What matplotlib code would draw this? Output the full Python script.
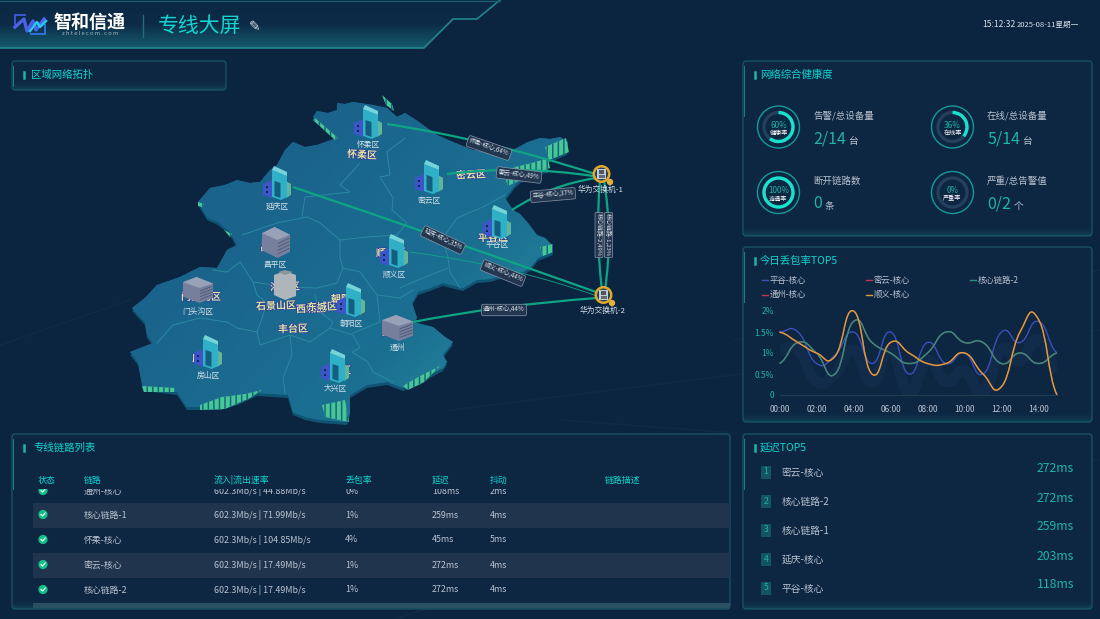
import numpy as np
import matplotlib
matplotlib.use('Agg')
import matplotlib.pyplot as plt
from matplotlib.colors import LinearSegmentedColormap
from matplotlib.patches import Polygon, FancyBboxPatch, Rectangle, Circle, Arc, PathPatch
from matplotlib.path import Path
from matplotlib.transforms import ScaledTranslation
import matplotlib.patheffects as pe

plt.rcParams['font.family'] = ['Noto Sans CJK SC', 'DejaVu Sans']
plt.rcParams['hatch.linewidth'] = 1.1

BG = '#0b2440'
PANEL = '#0d2642'
CYAN = '#12d6d0'
TEAL = '#1fb5a5'
GREY = '#b9c3cf'

# donnees du graphique
hours = list(range(16))
hour_labels = ['00:00', '02:00', '04:00', '06:00', '08:00', '10:00', '12:00', '14:00']
pinggu = [1.5, 1.5, 0.75, 0.95, 1.5, 0.75, 1.5, 0.5, 1.25, 0.75, 1.0, 0.5, 1.5, 1.25, 1.75, 1.0]
miyun = [0.75, 1.25, 1.0, 0.5, 1.75, 1.25, 1.0, 0.75, 1.0, 1.5, 1.25, 1.25, 0.75, 1.0, 0.75, 1.0]
hexin2 = [0.75, 1.25, 1.0, 0.5, 1.75, 1.25, 1.0, 0.75, 1.0, 1.5, 1.25, 1.25, 0.75, 1.0, 0.75, 1.0]
tongzhou = [1.5, 1.25, 1.0, 0.92, 2.0, 0.5, 1.25, 1.0, 0.75, 0.75, 1.0, 0.5, 0.2, 1.5, 1.8, 0.0]
shunyi = [1.5, 1.25, 1.0, 0.92, 2.0, 0.5, 1.25, 1.0, 0.75, 0.75, 1.0, 0.5, 0.2, 1.5, 1.8, 0.0]
series_names = ['平谷-核心', '密云-核心', '核心链路-2', '通州-核心', '顺义-核心']
series_colors = ['#3a50bd', '#b83a50', '#2a9080', '#b83a50', '#d8a03a']

delay_names = ['密云-核心', '核心链路-2', '核心链路-1', '延庆-核心', '平谷-核心']
delay_values = ['272ms', '272ms', '259ms', '203ms', '118ms']

table_head = ['状态', '链路', '流入|流出速率', '丢包率', '延迟', '抖动', '链路描述']
table_links = ['通州-核心', '核心链路-1', '怀柔-核心', '密云-核心', '核心链路-2']
table_rates = ['602.3Mb/s | 44.88Mb/s', '602.3Mb/s | 71.99Mb/s', '602.3Mb/s | 104.85Mb/s',
               '602.3Mb/s | 17.49Mb/s', '602.3Mb/s | 17.49Mb/s']
table_loss = ['0%', '1%', '4%', '1%', '1%']
table_delay = ['108ms', '259ms', '45ms', '272ms', '272ms']
table_jitter = ['2ms', '4ms', '5ms', '4ms', '4ms']

health_pct = [60, 36, 100, 0]
health_inner = ['健康率', '在线率', '连通率', '严重率']
health_titles = ['告警/总设备量', '在线/总设备量', '断开链路数', '严重/总告警值']
health_values = ['2/14', '5/14', '0', '0/2']
health_units = ['台', '台', '条', '个']

# contour de la carte (pixels)
map_outline = [(313, 117), (317, 111), (328, 113), (337, 110), (337, 103), (345, 104), (353, 102), (373, 105), (387, 108),
               (397, 117), (405, 113), (413, 118), (423, 125), (437, 135), (453, 142), (473, 150), (487, 152), (500, 154),
               (513, 150), (528, 142), (540, 138), (550, 139), (560, 137), (568, 142), (567, 152), (548, 160), (548, 170),
               (530, 172), (515, 185), (505, 198), (513, 210), (520, 214), (528, 223), (537, 235), (545, 238), (552, 245),
               (553, 252), (538, 258), (530, 268), (523, 272), (503, 275), (490, 279), (477, 280), (463, 288), (443, 283),
               (430, 288), (418, 292), (412, 303), (417, 318), (413, 322), (433, 327), (445, 337), (453, 342), (443, 355),
               (447, 362), (443, 368), (430, 375), (420, 382), (403, 388), (387, 382), (367, 385), (350, 395), (350, 412),
               (347, 422), (320, 420), (305, 417), (293, 412), (288, 395), (257, 393), (238, 402), (220, 407), (187, 407),
               (177, 392), (143, 388), (138, 362), (130, 352), (140, 348), (153, 343), (147, 335), (145, 322), (132, 308),
               (145, 298), (157, 285), (180, 277), (200, 267), (217, 268), (227, 250), (237, 245), (230, 232), (218, 222),
               (207, 217), (198, 202), (210, 188), (225, 185), (237, 180), (250, 183), (260, 182), (270, 170), (277, 165),
               (285, 150), (293, 142), (305, 147), (317, 145), (337, 138)]
borders = [
    [(360, 163), (340, 185), (350, 192), (305, 197), (302, 217)],
    [(405, 138), (387, 152), (390, 175), (380, 177), (393, 198), (392, 210), (407, 223), (397, 235)],
    [(242, 235), (277, 223), (307, 217), (320, 223), (340, 240), (367, 237), (397, 235)],
    [(340, 240), (340, 258), (343, 268), (337, 283), (317, 288), (287, 287), (253, 282), (240, 262), (227, 272), (213, 270)],
    [(253, 282), (257, 295), (267, 303), (262, 318), (257, 332)],
    [(157, 343), (173, 325), (200, 318), (227, 322), (237, 328), (257, 332), (260, 345), (290, 335)],
    [(290, 335), (292, 355), (283, 378), (285, 393)],
    [(290, 335), (310, 342), (330, 328), (353, 335), (360, 348), (352, 352), (368, 362), (373, 372), (393, 382)],
    [(377, 295), (380, 322), (353, 333)],
    [(343, 268), (360, 272), (377, 295), (400, 298), (413, 290)],
    [(315, 295), (320, 312), (333, 322), (330, 328)],
    [(443, 238), (457, 218), (483, 207), (505, 195)],
    [(443, 238), (448, 258), (450, 272), (460, 288)],
    [(400, 288), (413, 282), (448, 268)],
]
edge_strips = [
    [(503, 172), (515, 167), (532, 163), (548, 158), (550, 168), (535, 174), (520, 180), (508, 186)],
    [(545, 147), (566, 138), (569, 152), (549, 160)],
    [(540, 247), (553, 244), (553, 252), (543, 256)],
    [(200, 405), (222, 397), (245, 394), (262, 390), (250, 398), (225, 409), (200, 410)],
    [(322, 405), (345, 400), (349, 422), (325, 417)],
    [(142, 386), (175, 388), (175, 392), (144, 392)],
    [(315, 118), (338, 138), (335, 140), (313, 120)],
    [(382, 95), (392, 104), (394, 111), (386, 105)],
    [(403, 386), (420, 376), (440, 366), (424, 382), (408, 390)],
    [(198, 202), (204, 204), (202, 207), (198, 206)],
    [(224, 230), (232, 234), (230, 237)],
]

# liens: depart, point de controle, arrivee, epaisseur
link_paths = [
    ((387, 124), (490, 140), (595, 174), 1.6),
    ((447, 174), (520, 165), (593, 176), 1.6),
    ((512, 210), (550, 185), (596, 178), 1.6),
    ((293, 187), (450, 240), (596, 292), 1.6),
    ((410, 252), (510, 265), (597, 296), 0.6),
    ((413, 322), (500, 305), (597, 298), 1.6),
    ((600, 180), (595, 235), (602, 290), 1.6),
    ((604, 180), (613, 235), (605, 290), 1.6),
]
link_labels = [('怀柔-核心,64%', 489, 148, -19), ('密云-核心,49%', 519, 175, -7), ('平谷-核心,37%', 553, 195, 5),
               ('延庆-核心,35%', 443, 240, -25), ('顺义-核心,44%', 503, 273, -22), ('通州-核心,44%', 504, 310, 0)]
core_labels = [('核心链路-2,49%', 599, 235), ('核心链路-1,23%', 608.5, 235)]

towers = [('怀柔区', 368, 138), ('延庆区', 277, 199), ('密云区', 429, 193), ('平谷区', 497, 238),
          ('顺义区', 394, 267), ('朝阳区', 351, 316), ('房山区', 208, 368), ('大兴区', 335, 382)]
glitch_labels = [('怀柔区', 362, 155, -3), ('密云区', 471, 175, 3), ('平谷区', 493, 238, 2), ('门头沟区', 201, 297, 0),
                 ('石景山区', 276, 306, 2), ('西城区', 311, 309, 2), ('东城区', 322, 307, 2), ('丰台区', 293, 329, 2),
                 ('朝阳区', 346, 299, 2), ('昌平区', 275, 247, 2), ('顺义区', 391, 253, 2), ('大兴区', 336, 371, 2),
                 ('房山区', 207, 358, 2), ('通州区', 397, 332, 2), ('海淀区', 285, 287, 2)]

fig = plt.figure(figsize=(11, 6.19), dpi=100)
ax = fig.add_axes([0, 0, 1, 1])
ax.axis('off')
ax.add_patch(Rectangle((0, 0), 1100, 619, fc=BG, ec='none', zorder=0))
# traces faibles du fond
for x0, y0, x1, y1 in [(450, 410, 1100, 330), (560, 420, 1100, 460), (390, 620, 720, 520), (0, 345, 130, 300), (735, 340, 1100, 270)]:
    ax.plot([x0, x1], [y0, y1], color='#173a58', lw=1.2, alpha=0.3, zorder=0.5)


def panel(x, y, w, h, title, tx=None):
    box = FancyBboxPatch((x + 3, y + 3), w - 6, h - 6, boxstyle='round,pad=3', fc=PANEL, ec='#1a5767', lw=0.9, zorder=1)
    ax.add_patch(box)
    # lueur sur les bords
    im = ax.imshow(np.linspace(0, 1, 30).reshape(-1, 1) ** 3, extent=(x, x + w, y + h, y + h - min(h, 26)),
                   cmap=LinearSegmentedColormap.from_list('g', ['#0d264200', '#17606e80']), aspect='auto', zorder=1.1)
    im.set_clip_path(box)
    ax.plot([x + 0.5, x + 0.5], [y + 5, y + min(h - 4, 55)], color='#1a7c86', lw=0.8, zorder=1.2)
    ax.plot([x + 12, x + 12], [y + 11, y + 17], color=TEAL, lw=1.8, zorder=2)
    ax.text(x + 19 if tx is None else tx, y + 14, title, color=CYAN, fontsize=7.5, va='center', zorder=3)


def smooth_path(xs, ys):
    # courbe lissee par segments de Bezier passant par les valeurs
    xs = np.asarray(xs, float)
    ys = np.asarray(ys, float)
    verts = [(xs[0], ys[0])]
    codes = [Path.MOVETO]
    k = 0.5
    for i in range(len(xs) - 1):
        y_prev = ys[max(i - 1, 0)]
        y_next = ys[min(i + 2, len(ys) - 1)]
        verts += [(xs[i] + k * (xs[i + 1] - xs[i]), ys[i] + (ys[i + 1] - y_prev) * k / 2),
                  (xs[i + 1] - k * (xs[i + 1] - xs[i]), ys[i + 1] - (y_next - ys[i]) * k / 2),
                  (xs[i + 1], ys[i + 1])]
        codes += [Path.CURVE4] * 3
    return Path(verts, codes)


def tower(cx, cy, name):
    # batiment turquoise: cy = bas de l'icone
    ax.add_patch(Polygon([(cx - 14, cy - 15), (cx - 5, cy - 19), (cx - 5, cy - 1), (cx - 14, cy - 4)], fc='#3d55c8', ec='none', zorder=6))
    for dy in (-13, -8):
        ax.add_patch(Rectangle((cx - 11, cy + dy), 2.4, 2.4, fc='#16254f', zorder=6.1))
    ax.add_patch(Polygon([(cx + 9, cy - 18), (cx + 14, cy - 15), (cx + 14, cy - 4), (cx + 9, cy - 1)], fc='#62b59a', ec='none', zorder=6))
    ax.add_patch(Polygon([(cx - 5, cy - 29), (cx + 10, cy - 23), (cx + 10, cy - 2), (cx + 4, cy + 1), (cx - 5, cy - 2)], fc='#2fb0c6', ec='none', zorder=6.2))
    ax.add_patch(Polygon([(cx - 5, cy - 29), (cx - 3, cy - 33), (cx + 10, cy - 27), (cx + 10, cy - 23)], fc='#74d4da', ec='none', zorder=6.3))
    ax.add_patch(Polygon([(cx - 2.5, cy - 18), (cx + 3.5, cy - 16), (cx + 3.5, cy - 1), (cx - 2.5, cy - 3)], fc='#145f80', ec='none', zorder=6.4))
    ax.text(cx, cy + 7.5, name, color='#d7e1e8', fontsize=5.6, ha='center', va='center', zorder=7)


def grey_block(x, y, w, h, name, lx, ly, color='#767f9c'):
    ax.add_patch(Polygon([(x, y + h * 0.2), (x + w * 0.45, y), (x + w, y + h * 0.25), (x + w, y + h * 0.8), (x + w * 0.55, y + h), (x, y + h * 0.75)], fc=color, ec='none', zorder=6))
    ax.add_patch(Polygon([(x, y + h * 0.2), (x + w * 0.45, y), (x + w, y + h * 0.25), (x + w * 0.55, y + h * 0.42)], fc='#99a1b8', ec='none', zorder=6.1))
    for k in range(1, 5):
        frac = 0.42 + 0.11 * k
        ax.plot([x + w * 0.58, x + w - 1], [y + h * frac, y + h * (frac - 0.17)], color='#525c7c', lw=0.7, zorder=6.2)
    ax.text(lx, ly, name, color='#d7e1e8', fontsize=5.6, ha='center', va='center', zorder=7)


def switch(cx, cy, name, lx, ly):
    ax.add_patch(Circle((cx, cy), 9, fc='#e0a92a', ec='none', zorder=8))
    ax.add_patch(Circle((cx, cy), 6.5, fc='#24405c', ec='none', zorder=8.1))
    ax.add_patch(Rectangle((cx - 4.5, cy - 5), 9, 10, fc='#c4cad0', ec='none', zorder=8.2))
    ax.add_patch(Rectangle((cx - 2.5, cy - 4), 5, 3.5, fc='#4b5868', ec='none', zorder=8.3))
    ax.add_patch(Rectangle((cx - 3, cy + 1), 6, 2.5, fc='#5d6a7a', ec='none', zorder=8.3))
    ax.add_patch(Circle((cx + 8.5, cy + 8), 3.2, fc='#e0b040', ec='none', zorder=8.4))
    ax.text(lx, ly, name, color='#d7e1e8', fontsize=5.6, ha='center', va='center', zorder=8)


# bandeau du haut
banner = [(0, 0), (500, 0), (477, 19), (453, 19), (424, 48), (0, 48)]
head = ax.imshow(np.linspace(0, 1, 48).reshape(-1, 1), extent=(0, 500, 48, 0), aspect='auto', zorder=1.1,
                 cmap=LinearSegmentedColormap.from_list('h', ['#0b2744', '#0d2b47', '#155a6d']))
head.set_clip_path(Polygon(banner, transform=ax.transData))
ax.plot([0, 424, 453, 477, 500], [48, 48, 19, 19, 0], color='#20868e', lw=1.2, zorder=2)
ax.plot([0, 500], [0.5, 0.5], color='#1a5f70', lw=1, zorder=2)
ax.add_patch(Polygon([(14, 14), (26, 14), (26, 16), (16, 16), (16, 25), (14, 25)], fc='#3a55d0', zorder=3))
ax.add_patch(Polygon([(46, 24), (46, 35), (30, 35), (30, 33), (44, 33), (44, 24)], fc='#2f6fd8', zorder=3))
ax.plot([15, 24, 27, 33, 36, 44], [27, 19, 31, 21, 30, 19], color='#4a62ea', lw=2.4, zorder=3.1)
ax.plot([30, 37, 40, 46], [31, 22, 27, 21], color='#28c8ee', lw=1.8, zorder=3.2)
ax.text(89.5, 22, '智和信通', color='white', fontsize=13, fontweight='bold', ha='center', va='center', zorder=3)
ax.text(90, 33.5, 'z h t e l e c o m . c o m', color='#a9b7c4', fontsize=4.2, ha='center', va='center', zorder=3)
ax.plot([143, 143], [15, 37], color='#1f6f80', lw=1, zorder=3)
ax.text(200, 25.5, '专线大屏', color=CYAN, fontsize=15, ha='center', va='center', zorder=3)
ax.text(255, 27, '✎', color='#d8e0e6', fontsize=10, ha='center', va='center', family=['DejaVu Sans'], zorder=3)
ax.text(1016, 24.5, '15:12:32', color='#d8e0e8', fontsize=6.2, ha='right', va='center', zorder=3)
ax.text(1079, 25, '2025-08-11星期一', color='#d8e0e8', fontsize=5.5, ha='right', va='center', zorder=3)

# panneaux
panel(12, 61, 214, 29, '区域网络拓扑')
panel(743, 61, 349, 175, '网络综合健康度', tx=760)
panel(743, 247, 349, 175, '今日丢包率TOP5', tx=760)
panel(12, 434, 718, 175, '专线链路列表', tx=33)
panel(743, 434, 349, 175, '延迟TOP5', tx=760)

# carte
outline = np.array(map_outline, float)
ax.add_patch(Polygon(outline + [0, 3], fc='#0f5473', ec='none', zorder=2))
land = Polygon(outline, fc='#1a668e', ec='none', zorder=2.5)
ax.add_patch(land)
gx, gy = np.meshgrid(np.linspace(0, 1, 80), np.linspace(0, 1, 80))
grad = ax.imshow(np.clip((gx + 0.7 * gy) / 1.7, 0, 1), extent=(130, 570, 425, 100), aspect='auto', zorder=2.6,
                 cmap=LinearSegmentedColormap.from_list('m', ['#1b5f88', '#1a658d', '#1b7092', '#2a93a2']))
grad.set_clip_path(land)
for strip in edge_strips:
    ax.add_patch(Polygon(strip, fc='#46c892', ec='#1b6288', hatch='|||', lw=0, zorder=2.8))
for line in borders:
    pts = np.array(line)
    ax.plot(pts[:, 0], pts[:, 1], color='#2a8aa0', lw=0.7, zorder=3)

for txt, x, y, rot in glitch_labels:
    ax.text(x, y, txt, color='#e3e39c', fontsize=7.2, fontweight='bold', ha='center', va='center', rotation=rot, zorder=3.5,
            path_effects=[pe.withStroke(linewidth=1.0, foreground='#2a3fa0')])

# liens
for start, ctrl, end, width in link_paths:
    ax.add_patch(PathPatch(Path([start, ctrl, end], [Path.MOVETO, Path.CURVE3, Path.CURVE3]), fc='none', ec='#0ea585', lw=width, zorder=4))
for txt, x, y, rot in link_labels:
    ax.text(x, y, txt, color='#dfe6ec', fontsize=4.5, ha='center', va='center', rotation=rot, rotation_mode='anchor', zorder=5,
            bbox=dict(boxstyle='round,pad=0.28', fc='#233650', ec='#8a97a8', lw=0.5))
for txt, x, y in core_labels:
    ax.text(x, y, txt, color='#dfe6ec', fontsize=4.3, ha='center', va='center', rotation=-90, rotation_mode='anchor', zorder=5,
            bbox=dict(boxstyle='round,pad=0.12', fc='#233650', ec='#8a97a8', lw=0.5))

for name, cx, cy in towers:
    tower(cx, cy, name)
grey_block(262, 227, 28, 31, '昌平区', 275, 265)
ax.add_patch(Polygon([(274, 275), (285, 271), (296, 275), (296, 296), (285, 300), (274, 295)], fc='#aeb6bc', ec='none', zorder=6))
ax.add_patch(Polygon([(278, 272), (285, 270), (293, 272), (285, 275)], fc='#8c949c', zorder=6.1))
grey_block(183, 277, 30, 26, '门头沟区', 198, 312)
grey_block(382, 315, 31, 26, '通州', 397, 348)

switch(601.5, 174, '华为交换机-1', 601, 190)
switch(603.5, 295, '华为交换机-2', 603, 311)

# sante du reseau
ring_xy = [(778.5, 127), (952.5, 127), (778.5, 192.5), (952.5, 192.5)]
text_xy = [(813, 116), (987, 116), (813, 181), (987, 181)]
for i, (cx, cy) in enumerate(ring_xy):
    ax.add_patch(Circle((cx, cy), 21, fc='none', ec='#159a9a', lw=1, zorder=3))
    ax.add_patch(Circle((cx, cy), 14.5, fc='none', ec='#24405c', lw=2.4, zorder=3))
    if health_pct[i] > 0:
        ax.add_patch(Arc((cx, cy), 29, 29, theta1=-90, theta2=-90 + 3.6 * health_pct[i], ec='#18e2ce', lw=2.4, zorder=3.1))
    ax.text(cx, cy - 2, f'{health_pct[i]}%', color=TEAL, fontsize=5.8, ha='center', va='center', zorder=4)
    ax.text(cx, cy + 6, health_inner[i], color='white', fontsize=4.4, ha='center', va='center', zorder=4)
    tx, ty = text_xy[i]
    ax.text(tx, ty, health_titles[i], color=GREY, fontsize=6.8, ha='left', va='center', zorder=4)
    val = ax.text(tx, ty + 23, health_values[i], color=TEAL, fontsize=11.5, ha='left', va='center', zorder=4)
    ax.annotate(health_units[i], xy=(1, 0), xycoords=val, xytext=(2, 1), textcoords='offset points', color=GREY, fontsize=7, ha='left', va='bottom', zorder=4)

# tableau
col_x = [38, 84, 214, 345, 432, 490, 605]
for row in (1, 3):
    ax.add_patch(Rectangle((33, 503 + 25 * (row - 1)), 697, 24.5, fc='#21344e', ec='none', zorder=2))
ax.add_patch(Rectangle((33, 602.5), 697, 5.5, fc='#2a5062', ec='none', zorder=2))
row_y = [491, 515, 540, 565, 590]
for i in range(5):
    items = [(col_x[1], table_links[i]), (col_x[2], table_rates[i]), (col_x[3], table_loss[i]), (col_x[4], table_delay[i]), (col_x[5], table_jitter[i])]
    marks = []
    for x, txt in items:
        marks.append(ax.text(x, row_y[i], txt, color=GREY, fontsize=6.4, ha='left', va='center', zorder=3))
    c = Circle((col_x[0] + 5, row_y[i] - 0.5), 4.6, fc='#10c088', ec='none', zorder=3)
    ax.add_patch(c)
    marks.append(c)
    marks.append(ax.plot([col_x[0] + 3, col_x[0] + 4.6, col_x[0] + 7.2], [row_y[i] - 0.5, row_y[i] + 1, row_y[i] - 2], color='white', lw=0.8, zorder=3.1)[0])
    if i == 0:
        # la premiere ligne passe sous l'entete
        for m in marks:
            m.set_clip_on(True)
            m.set_clip_path(Rectangle((0, 489), 1100, 10, transform=ax.transData))
for x, txt in zip(col_x, table_head):
    ax.text(x, 480, txt, color=CYAN, fontsize=6.4, ha='left', va='center', zorder=3)

# delais
delay_y = [472, 501, 530, 559, 588]
for i, y in enumerate(delay_y):
    ax.add_patch(Rectangle((761, y - 6), 10, 12.5, fc='#12545f', ec='none', zorder=2))
    ax.text(766, y, str(i + 1), color=TEAL, fontsize=6.2, ha='center', va='center', zorder=3)
    ax.text(782, y + 0.5, delay_names[i], color=GREY, fontsize=7, ha='left', va='center', zorder=3)
    ax.text(1074, y - 3, delay_values[i], color=TEAL, fontsize=8.8, ha='right', va='center', zorder=3)

ax.set_xlim(0, 1100)
ax.set_ylim(619, 0)

# courbes de perte
chart = fig.add_axes([779.5 / 1100, 1 - 395 / 619, (1057 - 779.5) / 1100, 84 / 619])
chart.patch.set_alpha(0)
chart.set_xlim(0, 15)
chart.set_ylim(0, 2)
for spine in ['top', 'right', 'left']:
    chart.spines[spine].set_visible(False)
chart.spines['bottom'].set_color('#1f4050')
chart.set_xticks(hours[::2])
chart.set_xticklabels(hour_labels, color=GREY, fontsize=6)
chart.set_yticks([0, 0.5, 1, 1.5, 2])
chart.set_yticklabels(['0', '0.5%', '1%', '1.5%', '2%'], color=TEAL, fontsize=6)
chart.tick_params(length=0, pad=7)
chart.tick_params(axis='y', pad=4)
all_series = [pinggu, miyun, hexin2, tongzhou, shunyi]
glow = chart.transData + ScaledTranslation(0, -0.18, fig.dpi_scale_trans)
chart.add_patch(PathPatch(smooth_path(hours, pinggu), fc='none', ec='#33508c', lw=8, alpha=0.12, transform=glow))
for vals, col in zip(all_series, series_colors):
    chart.add_patch(PathPatch(smooth_path(hours, vals), fc='none', ec=col, lw=1.0, clip_on=False))

# legende
legend_xy = [(762, 280), (866, 280), (970, 280), (762, 294.5), (866, 294.5)]
for (x, y), name, col in zip(legend_xy, series_names, series_colors):
    ax.plot([x, x + 6], [y, y], color=col, lw=1, zorder=3)
    ax.text(x + 7.5, y, name, color=GREY, fontsize=6, ha='left', va='center', zorder=3)

fig.savefig('out.png', dpi=100)
